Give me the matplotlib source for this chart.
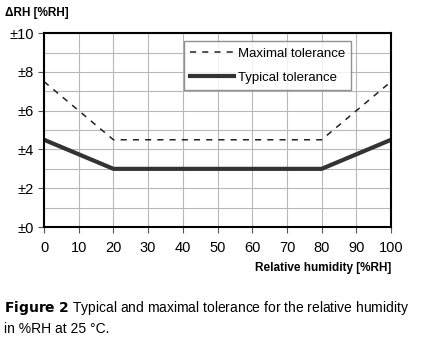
import matplotlib
matplotlib.use("Agg")
import matplotlib.pyplot as plt
from matplotlib.ticker import MultipleLocator

# data
rh = [0, 20, 80, 100]
maximal = [7.5, 4.5, 4.5, 7.5]
typical = [4.5, 3.0, 3.0, 4.5]
xticks = list(range(0, 101, 10))
yticks = [0, 2, 4, 6, 8, 10]
ylabels = ["\u00b1%d" % v for v in yticks]

plt.rcParams['font.family'] = ['Liberation Sans', 'DejaVu Sans']

fig = plt.figure(figsize=(4.26, 3.45), dpi=100)
ax = fig.add_axes([0.1033, 0.342, 0.8147, 0.562])

ax.plot(rh, maximal, color='#222222', lw=1.1, ls=(0, (4, 4)), label='Maximal tolerance')
ax.plot(rh, typical, color='#333333', lw=3.0, label='Typical tolerance')

ax.set_xlim(0, 100)
ax.set_ylim(0, 10)
ax.set_xticks(xticks)
ax.set_yticks(yticks)
ax.set_yticklabels(ylabels)
ax.yaxis.set_minor_locator(MultipleLocator(1))
ax.grid(True, which='both', color='#b8b8b8', lw=0.8)
ax.set_axisbelow(True)
ax.tick_params(labelsize=10.5, length=4, width=0.8, color='#555555')
ax.tick_params(which='minor', length=0)
ax.tick_params(axis='x', pad=6)
for s in ax.spines.values():
    s.set_linewidth(1.5)
    s.set_color('black')

fig.text(0.012, 0.955, "\u0394RH [%RH]", fontsize=8.5, fontweight='bold')
fig.text(0.918, 0.215, "Relative humidity [%RH]", fontsize=8.5, fontweight='bold', ha='right')

leg = ax.legend(loc='upper left', bbox_to_anchor=(0.383, 0.995), fontsize=9.5,
                frameon=True, fancybox=False, handlelength=3.3, handletextpad=0.3,
                borderpad=0.5, labelspacing=0.9)
leg.get_frame().set_edgecolor('#777777')
leg.get_frame().set_linewidth(1.0)

fig.text(0.010, 0.095, r"$\bf{Figure\ 2}$ Typical and maximal tolerance for the relative humidity",
         fontsize=10)
fig.text(0.010, 0.035, "in %RH at 25 \u00b0C.", fontsize=10)

fig.savefig("out.png", dpi=100)
